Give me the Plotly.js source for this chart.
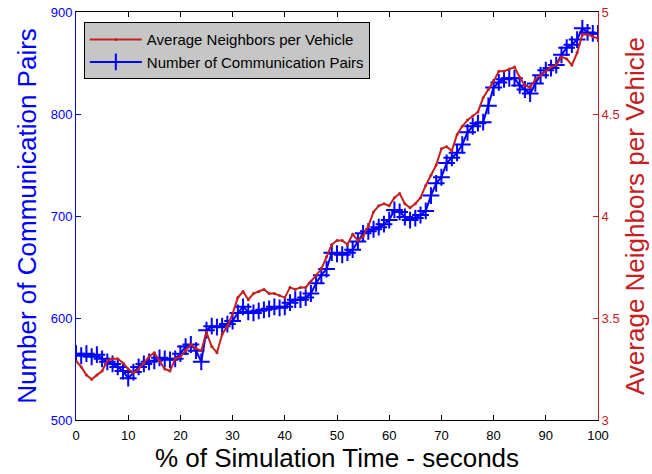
<!DOCTYPE html>
<html>
<head>
<meta charset="utf-8">
<script src="https://cdn.plot.ly/plotly-3.0.1.min.js"></script>
<style>html,body{margin:0;padding:0;background:#fff;}#chart{width:652px;height:474px;}</style>
</head>
<body>
<div id="chart"></div>
<script>
const timePct = Array.from({length: 101}, (_, i) => i);
const commPairs = [565,563,565,562,564,560,557,555,552,548,541,547,552,555,557,558,561,560,559,560,
  565,572,574,568,557,588,592,591,592,594,597,605,611,606,605,607,608,609,611,610,
  611,615,618,618,620,624,634,642,648,664,663,662,664,667,675,683,685,687,689,692,
  696,706,704,699,696,698,701,705,720,732,738,752,757,762,770,782,788,791,792,808,
  826,831,834,835,835,828,824,820,830,838,843,845,848,858,865,868,873,884,880,879,879];
const avgNeighbors = [3.29,3.26,3.22,3.20,3.22,3.24,3.29,3.30,3.30,3.28,3.25,3.23,3.25,3.28,3.31,3.33,3.29,3.25,3.24,3.30,
  3.31,3.34,3.37,3.35,3.34,3.43,3.36,3.33,3.42,3.46,3.52,3.60,3.63,3.59,3.62,3.63,3.64,3.62,3.62,3.61,
  3.60,3.65,3.64,3.65,3.65,3.68,3.71,3.74,3.80,3.86,3.88,3.88,3.86,3.91,3.88,3.90,3.95,4.02,4.05,4.06,
  4.05,4.09,4.11,4.06,4.04,4.06,4.09,4.15,4.20,4.25,4.33,4.34,4.32,4.40,4.44,4.47,4.49,4.51,4.58,4.62,
  4.66,4.71,4.71,4.72,4.73,4.68,4.64,4.63,4.67,4.69,4.71,4.73,4.74,4.78,4.77,4.74,4.80,4.89,4.89,4.88,4.87];
const xTicks = [0,10,20,30,40,50,60,70,80,90,100];
const leftTicks = [500,600,700,800,900];
const rightTicks = [3,3.5,4,4.5,5];

const BLUE = '#0000ff';
const RED = '#c3201f';
const FONT = 'Liberation Sans, Arial, sans-serif';

const traces = [
  {
    x: timePct, y: avgNeighbors, yaxis: 'y2', type: 'scatter', mode: 'lines+markers',
    name: 'Average Neighbors per Vehicle',
    line: {color: RED, width: 2},
    marker: {color: RED, size: 3, symbol: 'circle'}
  },
  {
    x: timePct, y: commPairs, yaxis: 'y', type: 'scatter', mode: 'lines+markers',
    name: 'Number of Communication Pairs',
    line: {color: BLUE, width: 2},
    marker: {color: BLUE, size: 12, symbol: 'cross-thin', line: {color: BLUE, width: 2}}
  }
];

const layout = {
  width: 652, height: 474,
  margin: {l: 76, r: 54, t: 12, b: 54, pad: 0},
  paper_bgcolor: '#ffffff', plot_bgcolor: '#ffffff',
  font: {family: FONT, size: 13, color: '#000'},
  showlegend: true,
  legend: {
    x: 0.015, y: 0.975, xanchor: 'left', yanchor: 'top',
    bgcolor: '#c6c6c6', bordercolor: '#000', borderwidth: 1,
    font: {family: FONT, size: 15, color: '#000'},
    itemwidth: 52,
    traceorder: 'normal', tracegroupgap: 0
  },
  xaxis: {
    range: [0, 100], tickvals: xTicks, ticktext: xTicks.map(String),
    ticks: 'inside', ticklen: 5, tickcolor: '#000', tickwidth: 1,
    showline: true, linecolor: '#000', linewidth: 1, mirror: 'ticks',
    showgrid: false, zeroline: false,
    ticklabelstandoff: 3,
    tickfont: {family: FONT, size: 13, color: '#000'},
    title: {text: '% of Simulation Time - seconds', font: {family: FONT, size: 26, color: '#000'}, standoff: 4},
    automargin: false
  },
  yaxis: {
    range: [500, 900], tickvals: leftTicks, ticktext: leftTicks.map(String),
    ticks: 'inside', ticklen: 5, tickcolor: BLUE,
    showline: true, linecolor: BLUE, linewidth: 1,
    showgrid: false, zeroline: false,
    tickfont: {family: FONT, size: 13, color: BLUE},
    title: {text: 'Number of Communication Pairs', font: {family: FONT, size: 26, color: BLUE}, standoff: 6},
    automargin: false
  },
  yaxis2: {
    range: [3, 5], tickvals: rightTicks, ticktext: rightTicks.map(String),
    overlaying: 'y', side: 'right',
    ticks: 'inside', ticklen: 5, tickcolor: RED,
    showline: true, linecolor: RED, linewidth: 1,
    showgrid: false, zeroline: false,
    tickfont: {family: FONT, size: 13, color: RED},
    title: {text: 'Average Neighbors per Vehicle', font: {family: FONT, size: 26, color: RED}, standoff: 6},
    automargin: false
  }
};

Plotly.newPlot('chart', traces, layout, {displayModeBar: false, staticPlot: true});
</script>
</body>
</html>
